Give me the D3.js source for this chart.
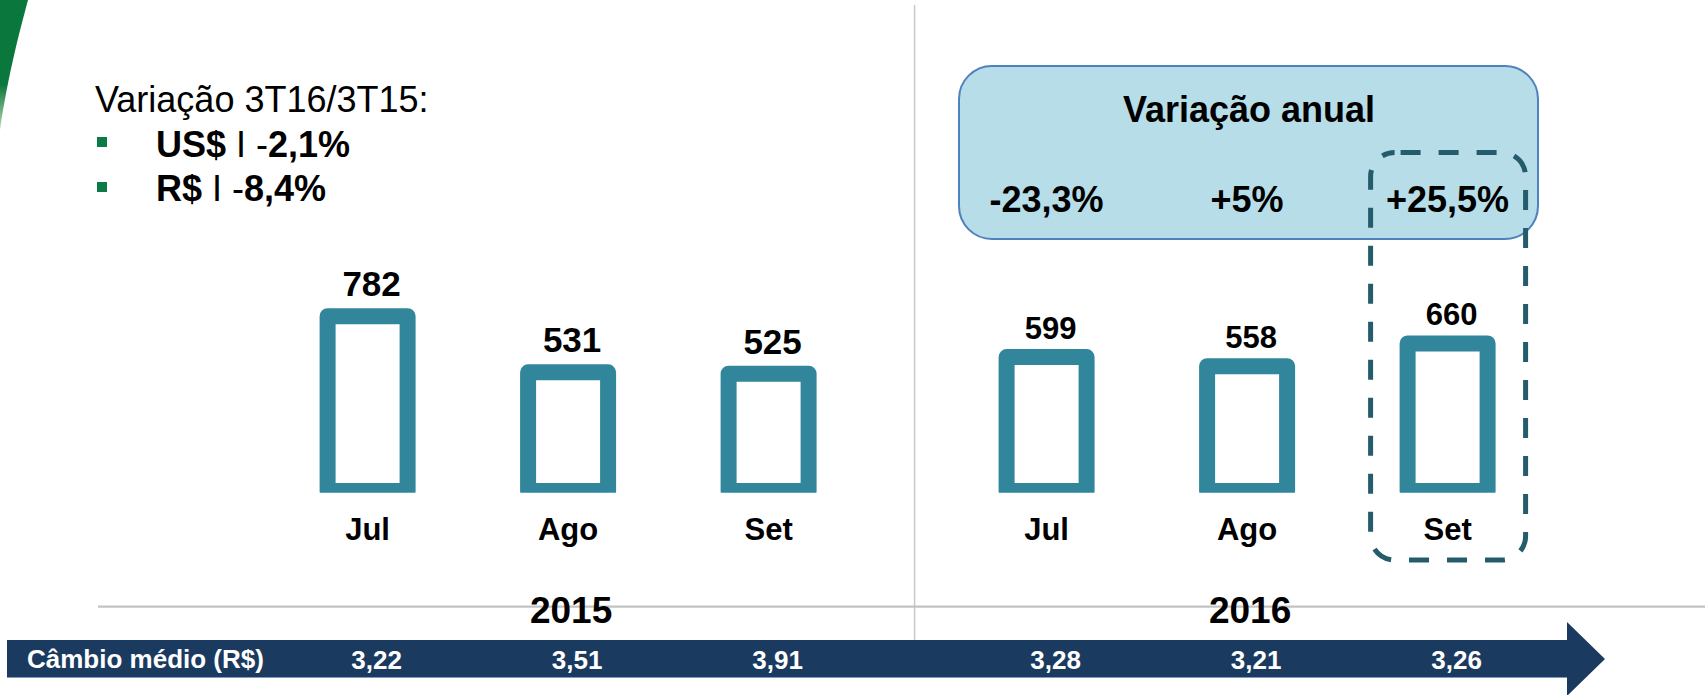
<!DOCTYPE html>
<html>
<head>
<meta charset="utf-8">
<script src="https://cdn.jsdelivr.net/npm/d3@7"></script>
<style>
body { margin: 0; background: #fff; }
text { font-family: "Liberation Sans", Arial, sans-serif; }
</style>
</head>
<body>
<svg width="1705" height="695"></svg>
<script>
// volumes por mes (3T15 x 3T16) e cambio medio
let months = ["Jul", "Ago", "Set"];
let years = ["2015", "2016"];
let vol2015 = [782, 531, 525];
let vol2016 = [599, 558, 660];
let cambio = [3.22, 3.51, 3.91, 3.28, 3.21, 3.26];
let varAnual = ["-23,3%", "+5%", "+25,5%"];

let svg = d3.select("svg");
let width = +svg.attr("width");
let height = +svg.attr("height");

let ptBR = d3.formatLocale({decimal: ",", thousands: ".", grouping: [3], currency: ["R$", ""]});
let fmt = ptBR.format(".2f");

let rows = [];
years.forEach(function(yr, i){
	let vals = i == 0 ? vol2015 : vol2016;
	months.forEach(function(m, j){
		rows.push({year: yr, month: m, value: vals[j], cambio: cambio[i*3 + j]});
	});
});

let xYear = d3.scaleBand().domain(years).range([228.6, 1586.6]);
let xMonth = d3.scalePoint().domain(months).range([139, 540]);
let cx = function(d){ return xYear(d.year) + xMonth(d.month); };
let y = d3.scaleLinear().domain([0, 800]).range([490.9, 312.2]);

let teal = "#31869b";

// canto verde
let grad = svg.append("defs").append("linearGradient")
	.attr("id", "gr").attr("x1", 0).attr("y1", 0).attr("x2", 0).attr("y2", 1);
grad.append("stop").attr("offset", "0.65").attr("stop-color", "#0a773c");
grad.append("stop").attr("offset", "1").attr("stop-color", "#b5dcae");
svg.append("path")
	.attr("d", "M0,0 L28,0 C20,30 8,75 0,130 Z")
	.attr("fill", "url(#gr)");

svg.select("defs").append("clipPath").attr("id", "clipBars")
	.append("rect").attr("x", 0).attr("y", 0).attr("width", width).attr("height", 492.7);

// linhas cinzas
svg.append("line")
	.attr("x1", xYear("2016") + 7).attr("x2", xYear("2016") + 7)
	.attr("y1", 5).attr("y2", 640)
	.attr("stroke", "#c8c8c8").attr("stroke-width", 1.5);
svg.append("line")
	.attr("x1", 98).attr("x2", width)
	.attr("y1", 606.7).attr("y2", 606.7)
	.attr("stroke", "#c3c3c3").attr("stroke-width", 2.2);

// texto superior esquerdo
svg.append("text").attr("x", 95).attr("y", 112)
	.attr("font-size", 36).attr("fill", "#000")
	.text("Variação 3T16/3T15:");

let bullets = [["US$", "2,1%"], ["R$", "8,4%"]];
bullets.forEach(function(b, i){
	svg.append("rect")
		.attr("x", 97).attr("y", 137 + i*45).attr("width", 10).attr("height", 10)
		.attr("fill", "#0b7a45");
	let t = svg.append("text").attr("x", 156).attr("y", 157 + i*43.5).attr("font-size", 36);
	t.append("tspan").attr("font-weight", "bold").text(b[0]);
	t.append("tspan").text(" I -");
	t.append("tspan").attr("font-weight", "bold").text(b[1]);
});

// caixa variacao anual
svg.append("rect")
	.attr("x", 959).attr("y", 66).attr("width", 579).attr("height", 173)
	.attr("rx", 33).attr("ry", 33)
	.attr("fill", "#b7dde8").attr("stroke", "#4f81bd").attr("stroke-width", 2);
svg.append("text").attr("x", 1249).attr("y", 122)
	.attr("text-anchor", "middle").attr("font-size", 36).attr("font-weight", "bold")
	.text("Variação anual");

let rows16 = rows.filter(function(d){ return d.year == "2016"; });
svg.selectAll(".var")
	.data(rows16)
	.enter()
	.append("text")
	.attr("class", "var")
	.attr("x", function(d){ return cx(d); })
	.attr("y", 212)
	.attr("text-anchor", "middle").attr("font-size", 36).attr("font-weight", "bold")
	.text(function(d, i){ return varAnual[i]; });

// barras
svg.append("g").attr("clip-path", "url(#clipBars)")
	.selectAll("rect")
	.data(rows)
	.enter()
	.append("rect")
	.attr("x", function(d){ return cx(d) - 40; })
	.attr("width", 80)
	.attr("y", function(d){ return y(d.value); })
	.attr("height", function(d){ return y(0) - y(d.value); })
	.attr("fill", "#fff")
	.attr("stroke", teal)
	.attr("stroke-width", 16)
	.attr("stroke-linejoin", "round");

svg.selectAll(".val")
	.data(rows)
	.enter()
	.append("text")
	.attr("class", "val")
	.attr("x", function(d){ return cx(d) + 4; })
	.attr("y", function(d){ return y(d.value) - (d.year == "2015" ? 20 : 18.5); })
	.attr("text-anchor", "middle")
	.attr("font-size", function(d){ return d.year == "2015" ? 35 : 31; })
	.attr("font-weight", "bold")
	.text(function(d){ return d.value; });

svg.selectAll(".mes")
	.data(rows)
	.enter()
	.append("text")
	.attr("class", "mes")
	.attr("x", function(d){ return cx(d); })
	.attr("y", 540)
	.attr("text-anchor", "middle").attr("font-size", 31).attr("font-weight", "bold")
	.text(function(d){ return d.month; });

// destaque Set/2016
let last = rows[rows.length - 1];
svg.append("rect")
	.attr("x", cx(last) - 77).attr("y", 152.5)
	.attr("width", 155).attr("height", 407.5)
	.attr("rx", 24).attr("ry", 24)
	.attr("fill", "none").attr("stroke", "#245c6c").attr("stroke-width", 5)
	.attr("stroke-dasharray", "20,18").attr("stroke-dashoffset", -6);

// anos
svg.selectAll(".ano")
	.data(years)
	.enter()
	.append("text")
	.attr("class", "ano")
	.attr("x", function(d){ return xYear(d) + xYear.bandwidth()/2 + 3; })
	.attr("y", 623)
	.attr("text-anchor", "middle").attr("font-size", 37).attr("font-weight", "bold")
	.text(function(d){ return d; });

// seta cambio medio
svg.append("path")
	.attr("d", "M7,640 L1567,640 L1567,622 L1605,659 L1567,696 L1567,677.5 L7,677.5 Z")
	.attr("fill", "#1b3a5f");
svg.append("line")
	.attr("x1", 7).attr("x2", 1567).attr("y1", 677.5).attr("y2", 677.5)
	.attr("stroke", "#7f9cc0").attr("stroke-width", 1);
svg.append("text").attr("x", 27).attr("y", 668)
	.attr("font-size", 26).attr("font-weight", "bold").attr("fill", "#fff")
	.text("Câmbio médio (R$)");
svg.selectAll(".cambio")
	.data(rows)
	.enter()
	.append("text")
	.attr("class", "cambio")
	.attr("x", function(d){ return cx(d) + 9; })
	.attr("y", 669)
	.attr("text-anchor", "middle").attr("font-size", 26).attr("font-weight", "bold").attr("fill", "#fff")
	.text(function(d){ return fmt(d.cambio); });
</script>
</body>
</html>
